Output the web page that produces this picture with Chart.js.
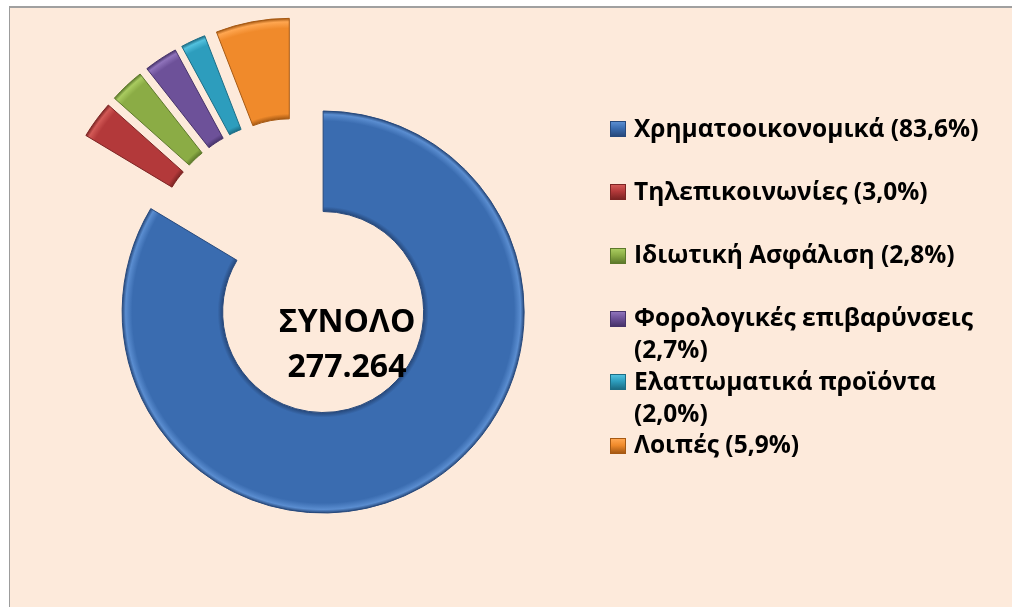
<!DOCTYPE html>
<html>
<head>
<meta charset="utf-8">
<script src="https://cdn.jsdelivr.net/npm/chart.js@4.4.1/dist/chart.umd.min.js"></script>
<style>
  html, body { margin:0; padding:0; background:#ffffff; }
  body { width:1012px; height:607px; position:relative; overflow:hidden; font-family:"Open Sans", "Noto Sans", sans-serif; }
  #frame { position:absolute; left:9px; top:6px; width:1010px; height:610px; background:#FDEADB; border-left:1px solid #9c9c9c; border-top:2px solid #a0a0a0; box-sizing:border-box; }
  #wrap { position:absolute; left:0; top:0; width:1012px; height:607px; }
  .item { position:absolute; left:610px; width:390px; }
  .mark { position:absolute; left:0; width:16px; height:16px; box-sizing:border-box; }
  .txt { position:absolute; left:24px; width:362px; font-weight:700; font-size:24.5px; line-height:32px; color:#000; }
</style>
</head>
<body>
<div id="frame"></div>
<div id="wrap"><canvas id="c" width="1012" height="607"></canvas></div>
<div id="legend"></div>
<script>
const categories = ["Χρηματοοικονομικά", "Τηλεπικοινωνίες", "Ιδιωτική Ασφάλιση", "Φορολογικές επιβαρύνσεις", "Ελαττωματικά προϊόντα", "Λοιπές"];
const shares = [83.6, 3.0, 2.8, 2.7, 2.0, 5.9];
const shareLabels = ["83,6%", "3,0%", "2,8%", "2,7%", "2,0%", "5,9%"];
const explodePx = [50, 50, 50, 50, 50, 50];
const totalTitle = "ΣΥΝΟΛΟ";
const totalValue = "277.264";

const baseColors = ["#3A6CB0", "#B3393A", "#8BAC45", "#6D5199", "#2D9DBD", "#F08A2B"];
const lightColors = ["#5A8DD0", "#D25956", "#A9CB60", "#8F73BB", "#52C1DE", "#FFA650"];
const darkColors = ["#27497C", "#7C2423", "#5D792B", "#47336A", "#1C6D85", "#A65913"];

const OUTER_R = 201, INNER_R = 100.5;

function ringGradient(ctx, i) {
  const chart = ctx.chart;
  const a = chart.chartArea;
  if (!a) return baseColors[i];
  const cx = (a.left + a.right) / 2, cy = (a.top + a.bottom) / 2;
  const g = chart.ctx.createRadialGradient(cx, cy, INNER_R, cx, cy, OUTER_R);
  g.addColorStop(0, darkColors[i]);
  g.addColorStop(0.05, baseColors[i]);
  g.addColorStop(0.90, baseColors[i]);
  g.addColorStop(0.965, lightColors[i]);
  g.addColorStop(1, darkColors[i]);
  return g;
}

// Explode every piece along its bisector without changing its radii or angles
const explode = {
  id: 'explode',
  beforeDatasetsDraw(chart) {
    chart.getDatasetMeta(0).data.forEach((arc, i) => {
      if (arc._exploded) return;
      arc._exploded = true;
      const px = explodePx[i];
      arc.draw = function (ctx) {
        const mid = (this.startAngle + this.endAngle) / 2;
        ctx.save();
        ctx.translate(Math.cos(mid) * px, Math.sin(mid) * px);
        Chart.ArcElement.prototype.draw.call(this, ctx);
        ctx.restore();
      };
    });
  }
};

const centerText = {
  id: 'centerText',
  afterDraw(chart) {
    const c = chart.ctx;
    c.save();
    c.fillStyle = '#000';
    c.font = 'bold 32px "Open Sans", "Noto Sans", sans-serif';
    c.textAlign = 'center';
    c.textBaseline = 'alphabetic';
    c.fillText(totalTitle, 347, 332);
    c.fillText(totalValue, 347, 377);
    c.restore();
  }
};

new Chart(document.getElementById('c'), {
  type: 'doughnut',
  data: {
    labels: categories,
    datasets: [{
      data: shares,
      backgroundColor: (ctx) => ringGradient(ctx, ctx.dataIndex),
      borderColor: darkColors,
      borderWidth: 1,
      offset: 0,
      hoverOffset: 0
    }]
  },
  options: {
    responsive: false,
    animation: false,
    radius: OUTER_R,
    cutout: '50%',
    rotation: 0,
    layout: { padding: { left: 0, right: 415, top: 0, bottom: 70 } },
    plugins: { legend: { display: false }, tooltip: { enabled: false } }
  },
  plugins: [explode, centerText]
});

const legend = document.getElementById('legend');
categories.forEach((name, i) => {
  const top = 111.5 + i * 63.3;
  const it = document.createElement('div');
  it.className = 'item';
  it.style.top = top + 'px';
  const m = document.createElement('div');
  m.className = 'mark';
  m.style.top = '9.5px';
  m.style.background = `linear-gradient(180deg, ${lightColors[i]} 0%, ${baseColors[i]} 45%, ${darkColors[i]} 100%)`;
  m.style.border = `1px solid ${darkColors[i]}`;
  const t = document.createElement('div');
  t.className = 'txt';
  t.style.top = '0px';
  t.textContent = name + ' (' + shareLabels[i] + ')';
  it.appendChild(m);
  it.appendChild(t);
  legend.appendChild(it);
});
</script>
</body>
</html>
